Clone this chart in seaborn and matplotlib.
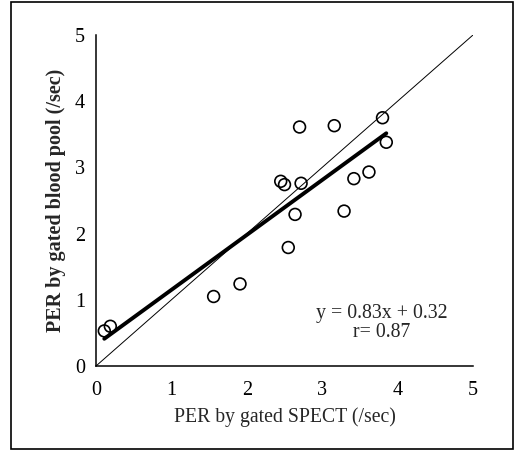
import numpy as np
import matplotlib
matplotlib.use("Agg")
import matplotlib.pyplot as plt
import seaborn as sns
from matplotlib.patches import Rectangle

# -------------------- data --------------------
per_spect = [0.11, 0.19, 1.56, 1.91, 2.45, 2.50, 2.70, 2.72, 2.64, 2.55,
             3.16, 3.29, 3.42, 3.62, 3.80, 3.85]
per_pool = [0.53, 0.60, 1.05, 1.24, 2.79, 2.74, 3.61, 2.76, 2.29, 1.79,
            3.63, 2.34, 2.83, 2.93, 3.75, 3.38]
slope = 0.83
intercept = 0.32
r_value = 0.87
identity = [0, 5]
ticks = [0, 1, 2, 3, 4, 5]

# -------------------- style --------------------
sns.set_style("white")
plt.rcParams["font.family"] = ["Liberation Serif", "DejaVu Serif"]
plt.rcParams["xtick.direction"] = "in"
plt.rcParams["ytick.direction"] = "in"

fig = plt.figure(figsize=(5.17, 4.5), dpi=100)
ax = fig.add_axes([96 / 517, 1 - 366 / 450, 377 / 517, 331 / 450])

# line of identity
sns.lineplot(x=identity, y=identity, ax=ax, color="black", linewidth=0.7)

# regression line
x_fit = np.array([min(per_spect), max(per_spect)])
sns.lineplot(x=x_fit, y=slope * x_fit + intercept, ax=ax,
             color="black", linewidth=2.8)

# measurements
sns.scatterplot(x=per_spect, y=per_pool, ax=ax, s=72, marker="o",
                facecolor="none", edgecolor="black", linewidth=1.2, zorder=3)

ax.text(3.79, 0.80, "y = %.2fx + %.2f" % (slope, intercept),
        ha="center", va="center", fontsize=14.3)
ax.text(3.79, 0.50, "r= %.2f" % r_value, ha="center", va="center",
        fontsize=14.3)

ax.set_xlim(0, 5)
ax.set_ylim(0, 5)
ax.set_xticks(ticks)
ax.set_yticks(ticks)
ax.tick_params(length=3, width=0.8, labelsize=14.5, colors="black")
ax.tick_params(axis="x", pad=11)
ax.tick_params(axis="y", pad=8)
ax.set_xlabel("PER by gated SPECT (/sec)", fontsize=14.2, labelpad=5)
ax.set_ylabel("PER by gated blood pool (/sec)", fontsize=14.5,
              fontweight="bold", labelpad=6)
sns.despine(ax=ax)
for side in ["left", "bottom"]:
    ax.spines[side].set_color("black")
    ax.spines[side].set_linewidth(1.1)

# outer frame around the whole figure
fig.patches.append(Rectangle((11 / 517, 1 / 450), 502 / 517, 447 / 450,
                             transform=fig.transFigure, fill=False,
                             edgecolor="black", linewidth=1.2))

fig.savefig("out.png", dpi=100)
